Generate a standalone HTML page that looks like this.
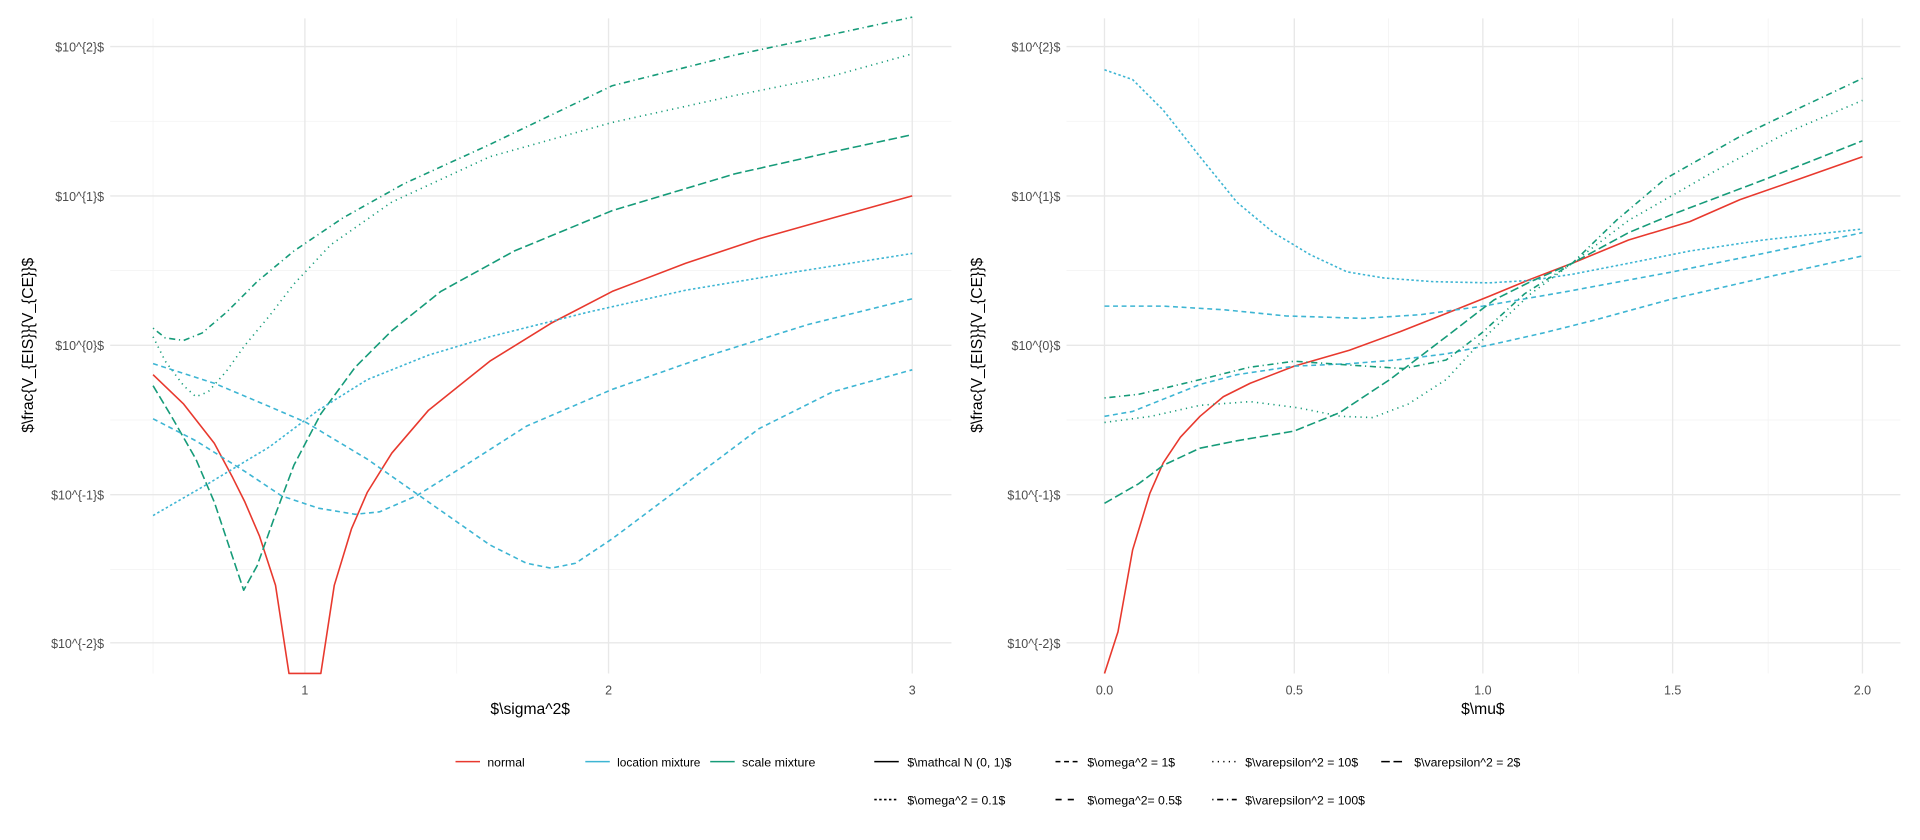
<!DOCTYPE html>
<html><head><meta charset="utf-8"><style>
html,body{margin:0;padding:0;background:#fff;}
svg{display:block;font-family:"Liberation Sans",sans-serif;}
</style></head><body>
<svg width="1920" height="840" viewBox="0 0 1568 686" xmlns="http://www.w3.org/2000/svg">
<rect width="1568" height="686" fill="#fff"/>
<g stroke="#f2f2f2" stroke-width="0.6">
<line x1="90" x2="777" y1="99" y2="99"/><line x1="90" x2="777" y1="221" y2="221"/><line x1="90" x2="777" y1="343" y2="343"/><line x1="90" x2="777" y1="465" y2="465"/>
<line x1="125" x2="125" y1="15" y2="550"/><line x1="373" x2="373" y1="15" y2="550"/><line x1="621" x2="621" y1="15" y2="550"/>
<line x1="871" x2="1552" y1="99" y2="99"/><line x1="871" x2="1552" y1="221" y2="221"/><line x1="871" x2="1552" y1="343" y2="343"/><line x1="871" x2="1552" y1="465" y2="465"/>
<line x1="979" x2="979" y1="15" y2="550"/><line x1="1134" x2="1134" y1="15" y2="550"/><line x1="1289" x2="1289" y1="15" y2="550"/><line x1="1444" x2="1444" y1="15" y2="550"/>
</g>
<g stroke="#e8e8e8" stroke-width="1.1">
<line x1="90" x2="777" y1="38" y2="38"/><line x1="90" x2="777" y1="160" y2="160"/><line x1="90" x2="777" y1="282" y2="282"/><line x1="90" x2="777" y1="404" y2="404"/><line x1="90" x2="777" y1="525" y2="525"/>
<line x1="249" x2="249" y1="15" y2="550"/><line x1="497" x2="497" y1="15" y2="550"/><line x1="745" x2="745" y1="15" y2="550"/>
<line x1="871" x2="1552" y1="38" y2="38"/><line x1="871" x2="1552" y1="160" y2="160"/><line x1="871" x2="1552" y1="282" y2="282"/><line x1="871" x2="1552" y1="404" y2="404"/><line x1="871" x2="1552" y1="525" y2="525"/>
<line x1="902" x2="902" y1="15" y2="550"/><line x1="1057" x2="1057" y1="15" y2="550"/><line x1="1211" x2="1211" y1="15" y2="550"/><line x1="1366" x2="1366" y1="15" y2="550"/><line x1="1521" x2="1521" y1="15" y2="550"/>
</g>
<g fill="#4d4d4d" font-size="10.2" text-anchor="end">
<text x="85" y="42">$10^{2}$</text><text x="85" y="164">$10^{1}$</text><text x="85" y="286">$10^{0}$</text><text x="85" y="408">$10^{-1}$</text><text x="85" y="529">$10^{-2}$</text>
<text x="866" y="42">$10^{2}$</text><text x="866" y="164">$10^{1}$</text><text x="866" y="286">$10^{0}$</text><text x="866" y="408">$10^{-1}$</text><text x="866" y="529">$10^{-2}$</text>
</g>
<g fill="#4d4d4d" font-size="10.2" text-anchor="middle">
<text x="249" y="567">1</text><text x="497" y="567">2</text><text x="745" y="567">3</text>
<text x="902" y="567">0.0</text><text x="1057" y="567">0.5</text><text x="1211" y="567">1.0</text><text x="1366" y="567">1.5</text><text x="1521" y="567">2.0</text>
</g>
<g fill="#000" font-size="12.8" text-anchor="middle">
<text x="433" y="583">$\sigma^2$</text><text x="1211" y="583">$\mu$</text>
<text transform="translate(27,282) rotate(-90)">$\frac{V_{EIS}}{V_{CE}}$</text>
<text transform="translate(802,282) rotate(-90)">$\frac{V_{EIS}}{V_{CE}}$</text>
</g>
<g fill="none" stroke-width="1.3" stroke-linejoin="round">
<polyline stroke="#E8392E" points="125,306 150,330 175,362 190,390 200,410 212,438 225,478 236,550 262,550 273,478 287,432 300,402 320,370 350,335 400,295 450,264 500,238 560,215 620,195 680,178 745,160"/>
<polyline stroke="#169B79" stroke-dasharray="7 3" points="125,315 140,340 160,375 175,410 190,455 199,482 210,462 225,420 240,380 262,338 290,300 320,270 360,238 420,205 500,172 600,142 680,124 745,110"/>
<polyline stroke="#169B79" stroke-dasharray="1 3.5" points="125,275 135,295 150,315 160,324 170,320 185,303 200,282 220,258 240,232 270,200 320,165 400,128 500,100 600,78 680,62 745,44"/>
<polyline stroke="#169B79" stroke-dasharray="1 3 5 3" points="125,268 135,276 150,278 165,272 185,255 210,230 240,205 280,178 330,150 400,118 500,70 600,45 680,28 745,14"/>
<polyline stroke="#3DB5D3" stroke-dasharray="4 3" points="125,297 175,313 220,332 250,345 300,375 350,410 400,445 430,460 450,464 470,460 500,440 540,410 580,380 620,350 680,320 745,302"/>
<polyline stroke="#3DB5D3" stroke-dasharray="4 3" points="125,342 160,360 200,385 230,405 260,415 290,420 310,418 340,405 380,380 430,348 500,318 580,290 660,265 745,244"/>
<polyline stroke="#3DB5D3" stroke-dasharray="2 2" points="125,421 170,395 220,365 260,335 300,310 350,290 400,275 480,255 560,237 650,222 745,207"/>
</g>
<g fill="none" stroke-width="1.3" stroke-linejoin="round">
<polyline stroke="#E8392E" points="902,550 913,516 925,449 939,403 950,378 964,357 980,340 999,324 1021,313 1057,299 1102,286 1143,271 1181,256 1216,242 1250,228 1284,215 1330,196 1380,181 1421,163 1470,146 1521,128"/>
<polyline stroke="#3DB5D3" stroke-dasharray="2 2" points="902,57 925,65 950,90 980,128 1010,165 1040,190 1070,208 1100,222 1130,227 1170,230 1216,231 1250,229 1284,224 1330,215 1380,205 1440,196 1521,187"/>
<polyline stroke="#3DB5D3" stroke-dasharray="4 3" points="902,250 950,250 1000,253 1050,258 1113,260 1160,257 1211,250 1280,238 1366,222 1440,207 1521,190"/>
<polyline stroke="#3DB5D3" stroke-dasharray="4 3" points="902,340 925,336 950,326 980,314 1010,306 1057,299 1102,297 1140,294 1181,289 1220,281 1260,272 1300,262 1366,244 1440,227 1521,209"/>
<polyline stroke="#169B79" stroke-dasharray="7 3" points="902,411 930,395 950,380 980,366 1010,360 1057,352 1094,337 1135,310 1181,275 1220,245 1250,230 1284,215 1330,190 1366,175 1440,147 1521,115"/>
<polyline stroke="#169B79" stroke-dasharray="1 3.5" points="902,345 940,340 980,331 1021,328 1060,333 1095,340 1121,341 1150,330 1181,310 1216,272 1250,240 1284,215 1330,180 1400,140 1460,108 1521,82"/>
<polyline stroke="#169B79" stroke-dasharray="1 3 5 3" points="902,325 930,322 955,316 980,310 1020,300 1057,295 1100,298 1146,301 1181,294 1210,272 1245,240 1284,215 1320,180 1360,146 1420,112 1470,88 1521,64"/>
</g>
<g stroke-width="1.3">
<line x1="372" x2="392" y1="622" y2="622" stroke="#E8392E"/>
<line x1="478" x2="498" y1="622" y2="622" stroke="#3DB5D3"/>
<line x1="580" x2="600" y1="622" y2="622" stroke="#169B79"/>
<line x1="714" x2="734" y1="622" y2="622" stroke="#000"/>
<line x1="862" x2="882" y1="622" y2="622" stroke="#000" stroke-dasharray="4 3"/>
<line x1="990" x2="1010" y1="622" y2="622" stroke="#000" stroke-dasharray="1 3.5"/>
<line x1="1128" x2="1148" y1="622" y2="622" stroke="#000" stroke-dasharray="7 3"/>
<line x1="714" x2="734" y1="653" y2="653" stroke="#000" stroke-dasharray="2 2"/>
<line x1="862" x2="882" y1="653" y2="653" stroke="#000" stroke-dasharray="5 5"/>
<line x1="990" x2="1010" y1="653" y2="653" stroke="#000" stroke-dasharray="1 3 5 3"/>
</g>
<g fill="#000" font-size="10">
<text x="398" y="626">normal</text>
<text x="504" y="626" textLength="68" lengthAdjust="spacingAndGlyphs">location mixture</text>
<text x="606" y="626" textLength="60" lengthAdjust="spacingAndGlyphs">scale mixture</text>
<text x="741" y="626">$\mathcal N (0, 1)$</text>
<text x="888" y="626">$\omega^2 = 1$</text>
<text x="1017" y="626">$\varepsilon^2 = 10$</text>
<text x="1155" y="626">$\varepsilon^2 = 2$</text>
<text x="741" y="657">$\omega^2 = 0.1$</text>
<text x="888" y="657">$\omega^2= 0.5$</text>
<text x="1017" y="657">$\varepsilon^2 = 100$</text>
</g>
</svg>
</body></html>
